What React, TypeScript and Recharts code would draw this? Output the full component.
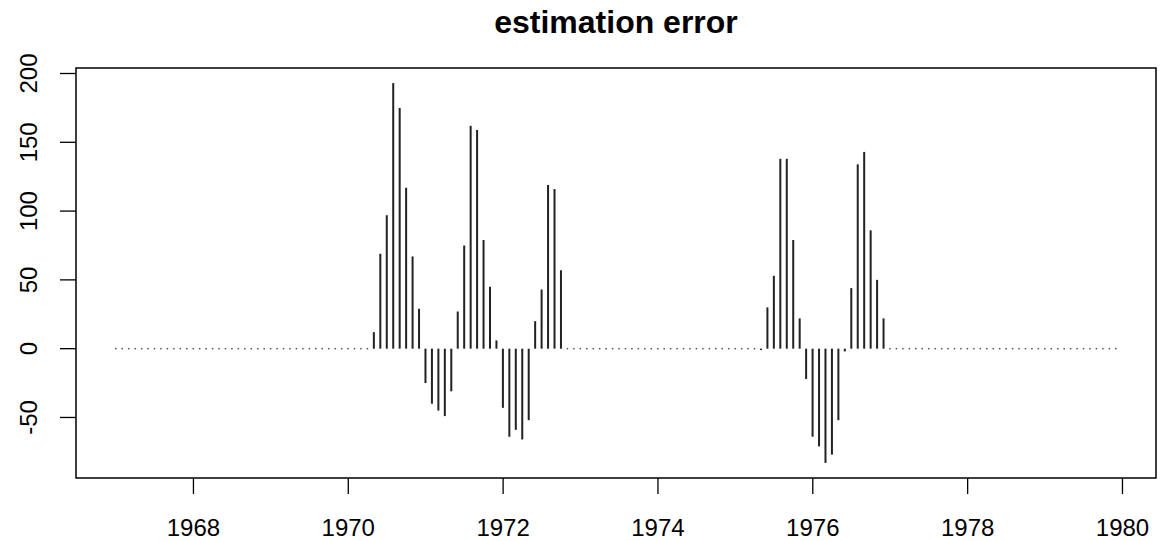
import { Bar, ComposedChart, ReferenceArea, XAxis, YAxis } from 'recharts'

const startYear = 1967
const monthCount = 156
const yearTicks = [1968, 1970, 1972, 1974, 1976, 1978, 1980]
const errorTicks = [-50, 0, 50, 100, 150, 200]

// May 1970 .. Oct 1972
const burst1970Start = 40
const burst1970 = [12, 69, 97, 193, 175, 117, 67, 29, -25, -40, -45, -49, -31, 27, 75, 162, 159, 79, 45, 6, -43, -64, -59, -66, -52, 20, 43, 119, 116, 57]
// May 1975 .. Dec 1976
const burst1975Start = 100
const burst1975 = [-1, 30, 53, 138, 138, 79, 22, -22, -64, -71, -83, -77, -52, -2, 44, 134, 143, 86, 50, 22]

const xDomain = [1966.483, 1980.433]
const yDomain = [-94, 204]

const font = '"Liberation Sans", Arial, sans-serif'

// the rest of the months sit on the zero line
const data = Array.from({ length: monthCount }, (_, i) => {
  let error = 0
  if (i >= burst1970Start && i < burst1970Start + burst1970.length) error = burst1970[i - burst1970Start]
  if (i >= burst1975Start && i < burst1975Start + burst1975.length) error = burst1975[i - burst1975Start]
  return { time: startYear + i / 12, error }
})

function Spike(props: any) {
  const { x, y, width, height } = props
  const cx = x + width / 2
  if (!height || Math.abs(height) < 0.5) {
    return <rect x={cx - 0.75} y={y - 0.75} width={1.5} height={1.5} fill="#555" />
  }
  const top = Math.min(y, y + height)
  return <rect x={cx - 1} y={top} width={2} height={Math.abs(height)} fill="#222" />
}

function YTick(props: any) {
  const { x, y, payload } = props
  const bx = x - 21
  return (
    <text x={bx} y={y} transform={`rotate(-90, ${bx}, ${y})`} textAnchor="middle" fontSize={24} fontFamily={font} fill="#000">
      {payload.value}
    </text>
  )
}

export default function App() {
  return (
    <div style={{ position: 'absolute', left: 0, top: 0, width: 1164, height: 541, background: '#fff' }}>
      <div
        style={{
          position: 'absolute', left: 76, top: 6, width: 1080, textAlign: 'center',
          fontFamily: font, fontWeight: 'bold', fontSize: 32, lineHeight: '32px', color: '#000',
        }}
      >
        estimation error
      </div>
      <ComposedChart width={1164} height={541} data={data} margin={{ top: 68, right: 8, left: 0, bottom: 0 }}>
        <XAxis
          dataKey="time"
          type="number"
          domain={xDomain}
          ticks={yearTicks}
          allowDataOverflow
          height={63}
          axisLine={false}
          tickSize={16}
          tickMargin={25}
          tickLine={{ stroke: '#000', strokeWidth: 1.3 }}
          tick={{ fill: '#000', fontSize: 24, fontFamily: font }}
        />
        <YAxis
          type="number"
          domain={yDomain}
          ticks={errorTicks}
          allowDataOverflow
          width={76}
          axisLine={false}
          tickSize={16}
          tickLine={{ stroke: '#000', strokeWidth: 1.3 }}
          tick={<YTick />}
        />
        <ReferenceArea x1={xDomain[0]} x2={xDomain[1]} y1={yDomain[0]} y2={yDomain[1]} fill="none" stroke="#000" strokeWidth={1.5} />
        <Bar dataKey="error" barSize={2} shape={<Spike />} isAnimationActive={false} />
      </ComposedChart>
    </div>
  )
}
